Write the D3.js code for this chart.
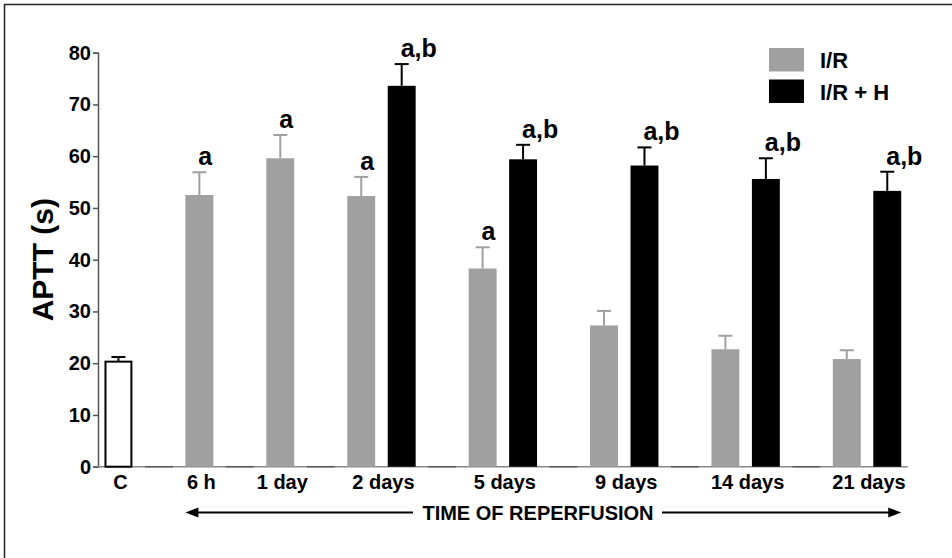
<!DOCTYPE html>
<html>
<head>
<meta charset="utf-8">
<script src="https://cdn.jsdelivr.net/npm/d3@7"></script>
<style>
  body { margin: 0; background: #fff; }
  text { font-family: "Liberation Sans", Arial, sans-serif; font-weight: bold; }
</style>
</head>
<body>
<div id="chart"></div>
<script>
// categories along the x axis
var categories = ["C", "6 h", "1 day", "2 days", "5 days", "9 days", "14 days", "21 days"];

// control group (white bar)
var controlValues = [20.3, null, null, null, null, null, null, null];
var controlErrors = [0.9, null, null, null, null, null, null, null];

// I/R (grey) and I/R + H (black)
var irValues  = [null, 52.5, 59.6, 52.3, 38.3, 27.3, 22.7, 20.8];
var irErrors  = [null, 4.4, 4.5, 3.7, 4.1, 2.8, 2.6, 1.7];
var irhValues = [null, null, null, 73.6, 59.4, 58.2, 55.6, 53.3];
var irhErrors = [null, null, null, 4.2, 2.8, 3.5, 4.0, 3.7];

var irLetters  = ["", "a", "a", "a", "a", "", "", ""];
var irhLetters = ["", "", "", "a,b", "a,b", "a,b", "a,b", "a,b"];

var yTicks = [0, 10, 20, 30, 40, 50, 60, 70, 80];
var legendLabels = ["I/R", "I/R + H"];

var W = 952, H = 558;
var grey = "#a0a0a0";

var svg = d3.select("#chart").append("svg")
    .attr("width", W)
    .attr("height", H);

// outer frame (right/bottom edges fall outside the picture)
svg.append("rect")
    .attr("x", 4.5).attr("y", 4.5)
    .attr("width", 1000).attr("height", 1000)
    .attr("fill", "none")
    .attr("stroke", "#222")
    .attr("stroke-width", 1.5);

// build bar slots: each category takes one slot per series, plus a gap slot
var bars = [];
var groups = [];
var gaps = [];
var slot = 0;
categories.forEach(function(c, i) {
    var start = slot;
    if (controlValues[i] != null) bars.push({ slot: slot++, v: controlValues[i], e: controlErrors[i], kind: "c", letter: "" });
    if (irValues[i] != null) bars.push({ slot: slot++, v: irValues[i], e: irErrors[i], kind: "ir", letter: irLetters[i] });
    if (irhValues[i] != null) bars.push({ slot: slot++, v: irhValues[i], e: irhErrors[i], kind: "irh", letter: irhLetters[i] });
    groups.push({ name: c, start: start, end: slot - 1 });
    gaps.push(slot);
    slot++;
});
var nSlots = slot - 1;
gaps.pop();

var x = d3.scaleBand()
    .domain(d3.range(nSlots))
    .range([98, 907.7])
    .paddingInner(0.31)
    .paddingOuter(0.16);

var y = d3.scaleLinear()
    .domain([0, 80])
    .range([466.7, 52.7]);

// y axis
var yAxis = svg.append("g")
    .attr("transform", "translate(98,0)")
    .call(d3.axisLeft(y).tickValues(yTicks).tickSize(5).tickPadding(2));
yAxis.select(".domain").attr("stroke", "#555").attr("stroke-width", 1.5);
yAxis.selectAll(".tick line").attr("stroke", "#555").attr("stroke-width", 1.5);
yAxis.selectAll(".tick text")
    .attr("fill", "#000")
    .style("font-size", "20px")
    .style("font-family", "'Liberation Sans', Arial, sans-serif")
    .style("font-weight", "bold");

svg.append("text")
    .attr("transform", "translate(53," + y(40) + ") rotate(-90)")
    .attr("text-anchor", "middle")
    .style("font-size", "30px")
    .text("APTT (s)");

// x axis line, slightly darker under the empty slots
svg.append("line")
    .attr("x1", 98).attr("x2", 907.7)
    .attr("y1", y(0)).attr("y2", y(0))
    .attr("stroke", "#888")
    .attr("stroke-width", 1.5);
svg.append("g").selectAll("line")
    .data(gaps)
    .enter().append("line")
    .attr("x1", function(d) { return x(d); })
    .attr("x2", function(d) { return x(d) + x.bandwidth(); })
    .attr("y1", y(0)).attr("y2", y(0))
    .attr("stroke", "#5a5a5a")
    .attr("stroke-width", 1.5);

// bars
function barFill(d) { return d.kind === "c" ? "#fff" : d.kind === "ir" ? grey : "#000"; }
function errColor(d) { return d.kind === "ir" ? grey : "#000"; }

var bar = svg.append("g").selectAll("g")
    .data(bars)
    .enter().append("g");

bar.append("line")
    .attr("x1", function(d) { return x(d.slot) + x.bandwidth() / 2; })
    .attr("x2", function(d) { return x(d.slot) + x.bandwidth() / 2; })
    .attr("y1", function(d) { return y(d.v); })
    .attr("y2", function(d) { return y(d.v + d.e); })
    .attr("stroke", errColor)
    .attr("stroke-width", 2);

bar.append("line")
    .attr("x1", function(d) { return x(d.slot) + x.bandwidth() / 2 - 7; })
    .attr("x2", function(d) { return x(d.slot) + x.bandwidth() / 2 + 7; })
    .attr("y1", function(d) { return y(d.v + d.e); })
    .attr("y2", function(d) { return y(d.v + d.e); })
    .attr("stroke", errColor)
    .attr("stroke-width", 2);

bar.append("rect")
    .attr("x", function(d) { return d.kind === "c" ? x(d.slot) + 1 : x(d.slot); })
    .attr("width", function(d) { return d.kind === "c" ? x.bandwidth() - 2 : x.bandwidth(); })
    .attr("y", function(d) { return y(d.v); })
    .attr("height", function(d) { return y(0) - y(d.v); })
    .attr("fill", barFill)
    .attr("stroke", function(d) { return d.kind === "c" ? "#000" : "none"; })
    .attr("stroke-width", 2);

// significance letters
bar.filter(function(d) { return d.letter; })
    .append("text")
    .attr("x", function(d) { return x(d.slot) + x.bandwidth() / 2 - 1; })
    .attr("y", function(d) { return y(d.v + d.e) - 7; })
    .style("font-size", "25px")
    .text(function(d) { return d.letter; });

// category labels
svg.append("g").selectAll("text")
    .data(groups)
    .enter().append("text")
    .attr("x", function(d) { return (x(d.start) + x(d.end) + x.bandwidth()) / 2 + 2; })
    .attr("y", 489)
    .attr("text-anchor", "middle")
    .style("font-size", "20px")
    .text(function(d) { return d.name; });

// time of reperfusion arrow
var arrowY = 512.5;
var xl = x(groups[1].start), xr = x(groups[groups.length - 1].end) + x.bandwidth();
svg.append("line").attr("x1", xl + 8).attr("x2", 413).attr("y1", arrowY).attr("y2", arrowY)
    .attr("stroke", "#000").attr("stroke-width", 2);
svg.append("line").attr("x1", 662).attr("x2", xr - 8).attr("y1", arrowY).attr("y2", arrowY)
    .attr("stroke", "#000").attr("stroke-width", 2);
svg.append("path")
    .attr("d", "M" + xl + "," + arrowY + "l13,-5l0,10z")
    .attr("fill", "#000");
svg.append("path")
    .attr("d", "M" + xr + "," + arrowY + "l-13,-5l0,10z")
    .attr("fill", "#000");
svg.append("text")
    .attr("x", 538).attr("y", 520)
    .attr("text-anchor", "middle")
    .style("font-size", "20px")
    .text("TIME OF REPERFUSION");

// legend
var legend = svg.append("g").selectAll("g")
    .data(legendLabels)
    .enter().append("g")
    .attr("transform", function(d, i) { return "translate(769," + (48 + i * 31.5) + ")"; });
legend.append("rect")
    .attr("width", 35).attr("height", 23.5)
    .attr("fill", function(d, i) { return i === 0 ? grey : "#000"; });
legend.append("text")
    .attr("x", 51).attr("y", 20)
    .style("font-size", "22px")
    .text(function(d) { return d; });
</script>
</body>
</html>
